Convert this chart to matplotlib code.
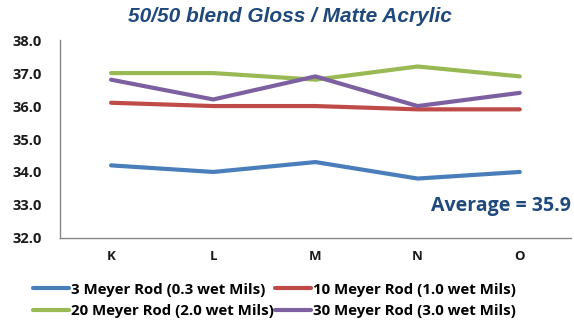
import matplotlib.pyplot as plt

categories = ["K", "L", "M", "N", "O"]
rod_3 = [34.2, 34.0, 34.3, 33.8, 34.0]
rod_10 = [36.1, 36.0, 36.0, 35.9, 35.9]
rod_20 = [37.0, 37.0, 36.8, 37.2, 36.9]
rod_30 = [36.8, 36.2, 36.9, 36.0, 36.4]
series_labels = ["3 Meyer Rod (0.3 wet Mils)", "10 Meyer Rod (1.0 wet Mils)",
                 "20 Meyer Rod (2.0 wet Mils)", "30 Meyer Rod (3.0 wet Mils)"]
y_ticks = [32.0, 33.0, 34.0, 35.0, 36.0, 37.0, 38.0]

colors = ["#4A7EBB", "#BE4B48", "#98B954", "#7D60A0"]
font = "Open Sans"

fig = plt.figure(figsize=(5.74, 3.29), dpi=100)
ax = fig.add_axes([0.1045, 0.277, 0.89, 0.601])

x = list(range(len(categories)))
handles = []
for vals, c, lab in zip([rod_3, rod_10, rod_20, rod_30], colors, series_labels):
    h, = ax.plot(x, vals, color=c, lw=3, solid_capstyle="round", label=lab)
    handles.append(h)

ax.set_xlim(-0.5, len(categories) - 0.5)
ax.set_ylim(32, 38)
ax.set_yticks(y_ticks)
ax.set_yticklabels([f"{v:.1f}" for v in y_ticks], fontfamily=font,
                   fontweight="bold", fontsize=10.5, color="#1a1a1a")
ax.set_xticks(x)
ax.set_xticklabels(categories, fontfamily=font, fontweight="bold",
                   fontsize=9.5, color="#1a1a1a")
ax.tick_params(axis="y", length=0, pad=13)
ax.tick_params(axis="x", length=0, pad=9)
for s in ["top", "right"]:
    ax.spines[s].set_visible(False)
for s in ["left", "bottom"]:
    ax.spines[s].set_color("#868686")
    ax.spines[s].set_linewidth(1.0)

ax.text(1.0, 0.16, "Average = 35.9", transform=ax.transAxes, ha="right",
        va="center", fontfamily=font, fontweight="bold", fontsize=14,
        color="#1F497D")

fig.text(0.505, 0.95, "50/50 blend Gloss / Matte Acrylic", ha="center",
         va="center", fontfamily="Liberation Sans", fontweight="bold",
         style="italic", fontsize=15, color="#1F497D")

# two rows: (3, 10) then (20, 30); legend fills column-wise
order = [0, 2, 1, 3]
fig.legend(handles=[handles[i] for i in order], loc="center",
           bbox_to_anchor=(0.478, 0.087), ncol=2, frameon=False,
           handlelength=2.4, handletextpad=0.1, columnspacing=0.1,
           labelspacing=0.5, borderpad=0.2,
           prop={"family": font, "weight": "bold", "size": 10.8})

fig.savefig("out.png", dpi=100)
